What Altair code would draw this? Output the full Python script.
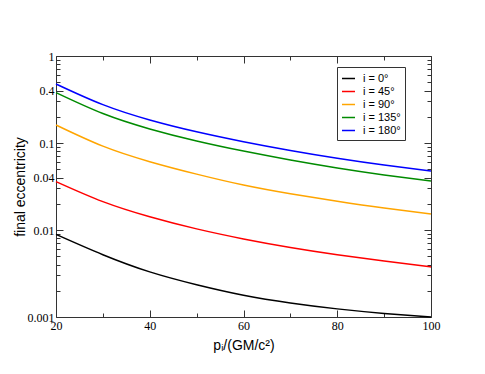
import altair as alt
import pandas as pd

# ---- data ----
p_values = [20, 30, 40, 50, 60, 70, 80, 90, 100]
ecc_0 = [0.0089, 0.0052, 0.0033, 0.00235, 0.00178, 0.00145, 0.00124, 0.00110, 0.0010]
ecc_45 = [0.036, 0.0212, 0.0142, 0.0103, 0.0079, 0.0063, 0.0052, 0.0044, 0.00376]
ecc_90 = [0.161, 0.092, 0.061, 0.0439, 0.0329, 0.0261, 0.0214, 0.0179, 0.0153]
ecc_135 = [0.379, 0.218, 0.145, 0.1054, 0.0807, 0.0638, 0.0517, 0.0430, 0.0366]
ecc_180 = [0.477, 0.276, 0.184, 0.1346, 0.1035, 0.0821, 0.0668, 0.0558, 0.0477]

series_names = ["i = 0°", "i = 45°", "i = 90°", "i = 135°", "i = 180°"]
series_colors = ["#000000", "#ff0000", "#ffa500", "#008b00", "#0000ff"]
series_values = [ecc_0, ecc_45, ecc_90, ecc_135, ecc_180]

x_ticks = [20, 30, 40, 50, 60, 70, 80, 90, 100]
y_ticks = [round(k * 10.0 ** e, 6) for e in (-3, -2, -1) for k in range(1, 10)] + [1.0]
y_labels = [1, 0.4, 0.1, 0.04, 0.01, 0.001]

rows = []
for name, vals in zip(series_names, series_values):
    for pv, ev in zip(p_values, vals):
        rows.append({"p": pv, "e": ev, "series": name})
df = pd.DataFrame(rows)

AX = "#333333"
ylab_list = "[" + ",".join(str(v) for v in y_labels) + "]"
x_tick_expr = "datum.value % 20 == 0 ? -7 : -4"
y_tick_expr = "indexof(" + ylab_list + ", datum.value) >= 0 ? -7 : -4"

x_scale = alt.Scale(domain=[20, 100], nice=False, zero=False)
y_scale = alt.Scale(type="log", domain=[0.001, 1], nice=False)

common_axis = dict(
    grid=False,
    domainColor=AX,
    tickColor=AX,
    labelOverlap=False,
    labelFlush=False,
)

x_axis_main = alt.Axis(
    orient="bottom",
    values=x_ticks,
    tickSize={"expr": x_tick_expr},
    labelPadding=10,
    labelExpr="datum.value % 20 == 0 ? datum.label : ''",
    title="pᵢ/(GM/c²)",
    titleX=187.5,
    titleY=28,
    titleBaseline="middle",
    titleAlign="center",
    **common_axis,
)
y_axis_main = alt.Axis(
    orient="left",
    values=y_ticks,
    tickSize={"expr": y_tick_expr},
    labelPadding=9,
    labelExpr="indexof(" + ylab_list + ", datum.value) >= 0 ? format(datum.value, '~g') : ''",
    labelBaseline="middle",
    title="final eccentricity",
    titleX=-36,
    titleY=130.5,
    titleAngle=-90,
    titleBaseline="middle",
    titleAlign="center",
    **common_axis,
)
x_axis_top = alt.Axis(
    orient="top", values=x_ticks, tickSize={"expr": x_tick_expr},
    labels=False, title=None, **common_axis,
)
y_axis_right = alt.Axis(
    orient="right", values=y_ticks, tickSize={"expr": y_tick_expr},
    labels=False, title=None, **common_axis,
)

lines = alt.Chart(df).mark_line(strokeWidth=1.5, interpolate="natural").encode(
    x=alt.X("p:Q", scale=x_scale, axis=x_axis_main),
    y=alt.Y("e:Q", scale=y_scale, axis=y_axis_main),
    color=alt.Color(
        "series:N",
        scale=alt.Scale(domain=series_names, range=series_colors),
        sort=series_names,
        legend=alt.Legend(
            orient="none",
            legendX=281,
            legendY=11,
            title=None,
            strokeColor=AX,
            fillColor="white",
            padding=4,
            symbolType="stroke",
            symbolSize=169,
            symbolStrokeWidth=1.5,
            labelFont="Liberation Sans",
            labelFontSize=11,
            labelColor="black",
            labelOffset=7,
            rowPadding=0,
        ),
    ),
)

frame = alt.Chart(df).mark_line(opacity=0).encode(
    x=alt.X("p:Q", scale=x_scale, axis=x_axis_top),
    y=alt.Y("e:Q", scale=y_scale, axis=y_axis_right),
    detail="series:N",
)

chart = (
    alt.layer(lines, frame)
    .resolve_axis(x="independent", y="independent")
    .properties(
        width=375,
        height=261,
        autosize=alt.AutoSizeParams(type="none"),
        padding={"left": 48, "top": 48, "right": 40, "bottom": 44},
    )
    .configure_view(stroke=None)
    .configure_axis(
        labelFont="Liberation Serif",
        labelFontSize=12,
        labelColor="black",
        titleFont="Liberation Sans",
        titleFontSize=14,
        titleFontWeight="normal",
        titleColor="black",
    )
)

chart.save("out.html", embed_options={"renderer": "svg", "actions": False})
